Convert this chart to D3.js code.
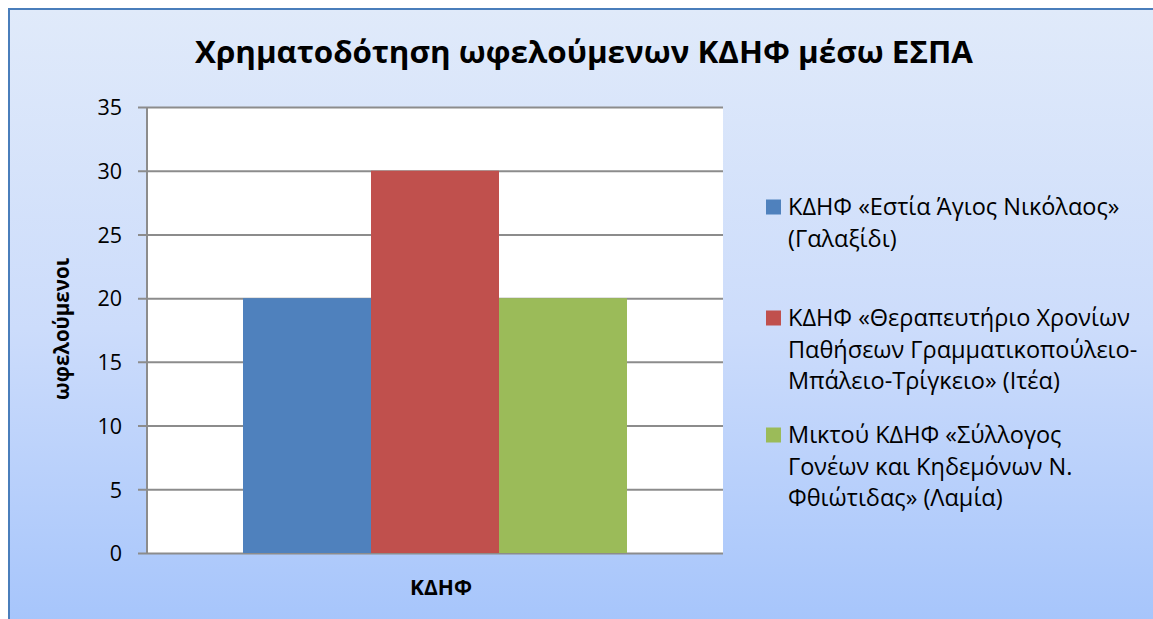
<!DOCTYPE html>
<html lang="el">
<head>
    <meta charset="UTF-8">
    <title>Χρηματοδότηση ωφελούμενων ΚΔΗΦ</title>
    <style>
        body { margin: 0; background: #ffffff; }
        svg { display: block; }
        text { font-family: "Open Sans", "Noto Sans", sans-serif; fill: #000; }
        .tick-label { font-size: 21.5px; }
        .legend-label { font-size: 23.5px; }
    </style>
</head>
<body>
    <svg id="chart" width="1153" height="619"></svg>

    <script src="https://d3js.org/d3.v7.min.js"></script>
    <script>
        // dados
        const category = "ΚΔΗΦ";
        const seriesNames = [
            ["ΚΔΗΦ «Εστία Άγιος Νικόλαος»", "(Γαλαξίδι)"],
            ["ΚΔΗΦ «Θεραπευτήριο Χρονίων", "Παθήσεων Γραμματικοπούλειο-", "Μπάλειο-Τρίγκειο» (Ιτέα)"],
            ["Μικτού ΚΔΗΦ «Σύλλογος", "Γονέων και Κηδεμόνων Ν.", "Φθιώτιδας» (Λαμία)"]
        ];
        const seriesValues = [20, 30, 20];
        const seriesColors = ["#4f81bd", "#c0504d", "#9bbb59"];
        const yTicks = [0, 5, 10, 15, 20, 25, 30, 35];

        const width = 1153;
        const height = 619;
        const plot = { left: 147, right: 723, top: 107, bottom: 553 };

        const svg = d3.select("#chart");

        // fundo com degradê
        const defs = svg.append("defs");
        const grad = defs.append("linearGradient")
            .attr("id", "bg")
            .attr("x1", 0).attr("y1", 0).attr("x2", 0).attr("y2", 1);
        grad.append("stop").attr("offset", "0%").attr("stop-color", "#e0eafa");
        grad.append("stop").attr("offset", "50%").attr("stop-color", "#ccdcfb");
        grad.append("stop").attr("offset", "100%").attr("stop-color", "#a3c3fb");

        svg.append("rect")
            .attr("x", 9).attr("y", 9)
            .attr("width", width + 20).attr("height", height + 20)
            .attr("fill", "url(#bg)")
            .attr("stroke", "#4a7ebb")
            .attr("stroke-width", 2);

        // escalas
        const x0 = d3.scaleBand()
            .domain([category])
            .range([plot.left, plot.right])
            .paddingInner(0)
            .paddingOuter(0.25);

        const x1 = d3.scaleBand()
            .domain(d3.range(seriesValues.length))
            .range([0, x0.bandwidth()]);

        const y = d3.scaleLinear()
            .domain([0, 35])
            .range([plot.bottom, plot.top]);

        // área do gráfico
        svg.append("rect")
            .attr("x", plot.left).attr("y", plot.top)
            .attr("width", plot.right - plot.left)
            .attr("height", plot.bottom - plot.top)
            .attr("fill", "#ffffff");

        // linhas de grade + ticks
        const yAxis = svg.append("g")
            .attr("transform", `translate(${plot.left},0)`)
            .call(d3.axisLeft(y)
                .tickValues(yTicks)
                .tickSize(-(plot.right - plot.left))
                .tickSizeOuter(0)
                .tickPadding(16));
        yAxis.select(".domain").remove();
        yAxis.selectAll(".tick line")
            .attr("x1", -9)
            .attr("stroke", "#8c8c8c")
            .attr("stroke-width", 2);
        yAxis.selectAll(".tick text")
            .attr("class", "tick-label")
            .attr("font-family", null)
            .attr("font-size", null)
            .attr("x", -25)
            .attr("dy", "0.36em");

        // barras
        svg.append("g")
            .selectAll("rect")
            .data(seriesValues)
            .enter()
            .append("rect")
            .attr("x", (d, i) => x0(category) + x1(i))
            .attr("y", d => y(d))
            .attr("width", x1.bandwidth())
            .attr("height", d => y(0) - y(d))
            .attr("fill", (d, i) => seriesColors[i]);

        // eixo vertical
        svg.append("line")
            .attr("x1", plot.left).attr("x2", plot.left)
            .attr("y1", plot.top).attr("y2", plot.bottom)
            .attr("stroke", "#8c8c8c")
            .attr("stroke-width", 2);

        // título
        svg.append("text")
            .attr("x", 584)
            .attr("y", 63)
            .attr("text-anchor", "middle")
            .attr("font-size", 30)
            .attr("font-weight", "bold")
            .attr("textLength", 778)
            .attr("lengthAdjust", "spacingAndGlyphs")
            .text("Χρηματοδότηση ωφελούμενων ΚΔΗΦ μέσω ΕΣΠΑ");

        // títulos dos eixos
        svg.append("text")
            .attr("x", x0(category) + x0.bandwidth() / 2 + 6)
            .attr("y", 595)
            .attr("text-anchor", "middle")
            .attr("font-size", 21)
            .attr("font-weight", "bold")
            .text(category);

        svg.append("text")
            .attr("transform", "translate(69,329) rotate(-90)")
            .attr("text-anchor", "middle")
            .attr("font-size", 20.5)
            .attr("font-weight", "bold")
            .text("ωφελούμενοι");

        // legenda
        const legendStarts = [207, 318, 435];
        const lineH = 31.5;
        const legend = svg.append("g");
        seriesNames.forEach((lines, i) => {
            const g = legend.append("g")
                .attr("transform", `translate(766,${legendStarts[i]})`);
            g.append("rect")
                .attr("x", 0).attr("y", -7.5)
                .attr("width", 15).attr("height", 15)
                .attr("fill", seriesColors[i]);
            lines.forEach((t, j) => {
                g.append("text")
                    .attr("class", "legend-label")
                    .attr("x", 22)
                    .attr("y", j * lineH)
                    .attr("dy", "0.36em")
                    .text(t);
            });
        });
    </script>
</body>
</html>
